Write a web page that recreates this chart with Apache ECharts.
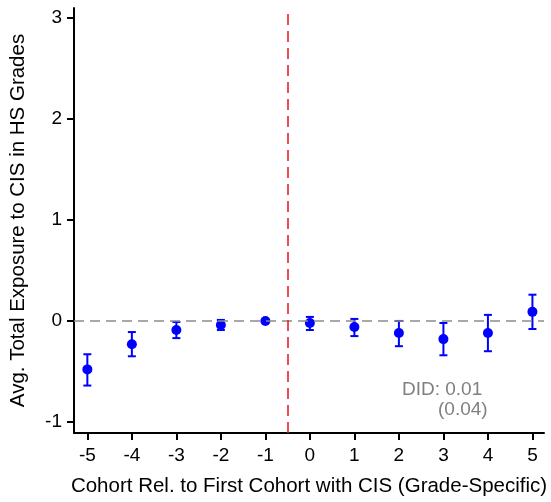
<!DOCTYPE html>
<html>
<head>
<meta charset="utf-8">
<script src="https://cdn.jsdelivr.net/npm/echarts@6/dist/echarts.min.js"></script>
<style>
  html, body { margin: 0; padding: 0; background: #fff; }
  #chart { width: 551px; height: 502px; }
</style>
</head>
<body>
<div id="chart"></div>
<script>
// Event-study estimates by cohort relative to the first cohort with CIS
const cohorts   = [-5, -4, -3, -2, -1, 0, 1, 2, 3, 4, 5];
const estimates = [-0.48, -0.23, -0.09, -0.04, 0, -0.02, -0.06, -0.12, -0.18, -0.12, 0.09];
const ciLow     = [-0.64, -0.35, -0.17, -0.09, null, -0.09, -0.15, -0.25, -0.34, -0.30, -0.08];
const ciHigh    = [-0.33, -0.11, -0.01, 0.01, null, 0.04, 0.02, 0.00, -0.02, 0.06, 0.26];
const xTicks    = [-5, -4, -3, -2, -1, 0, 1, 2, 3, 4, 5];
const yTicks    = [-1, 0, 1, 2, 3];
const eventLine = -0.5;
const didLines  = ['DID: 0.01', '(0.04)'];

const FONT = "'Liberation Sans', Arial, Helvetica, sans-serif";
const BLUE = '#0000ff';

const pointData = cohorts.map((c, i) => [c, estimates[i]]);
const barData = cohorts
  .map((c, i) => [c, ciLow[i], ciHigh[i]])
  .filter(d => d[1] !== null && d[2] !== null);

const chart = echarts.init(document.getElementById('chart'), null, { renderer: 'canvas' });

chart.setOption({
  animation: false,
  backgroundColor: '#fff',
  grid: { left: 74, right: 7, top: 8, bottom: 67, containLabel: false },
  xAxis: {
    type: 'value',
    min: -5.3,
    max: 5.26,
    name: 'Cohort Rel. to First Cohort with CIS (Grade-Specific)',
    nameLocation: 'middle',
    nameGap: 43,
    nameTextStyle: { fontFamily: FONT, fontSize: 20.5, color: '#000' },
    axisLine: { show: true, onZero: false, lineStyle: { color: '#000', width: 2 } },
    axisTick: { show: true, length: 7, customValues: xTicks, lineStyle: { color: '#000', width: 2 } },
    axisLabel: { customValues: xTicks, margin: 13, fontFamily: FONT, fontSize: 19, color: '#000' },
    splitLine: { show: false }
  },
  yAxis: {
    type: 'value',
    min: -1.11,
    max: 3.1,
    name: 'Avg. Total Exposure to CIS in HS Grades',
    nameLocation: 'middle',
    nameGap: 45,
    nameTextStyle: { fontFamily: FONT, fontSize: 20.5, color: '#000' },
    axisLine: { show: true, onZero: false, lineStyle: { color: '#000', width: 2 } },
    axisTick: { show: true, length: 7, customValues: yTicks, lineStyle: { color: '#000', width: 2 } },
    axisLabel: { customValues: yTicks, margin: 12, fontFamily: FONT, fontSize: 19, color: '#000' },
    splitLine: { show: false }
  },
  series: [
    {
      // confidence intervals with end caps
      type: 'custom',
      data: barData,
      z: 3,
      renderItem: function (params, api) {
        const x = api.value(0);
        const top = api.coord([x, api.value(2)]);
        const bot = api.coord([x, api.value(1)]);
        const half = 4;
        const style = { stroke: BLUE, lineWidth: 2 };
        return {
          type: 'group',
          children: [
            { type: 'line', shape: { x1: top[0], y1: top[1], x2: bot[0], y2: bot[1] }, style },
            { type: 'line', shape: { x1: top[0] - half, y1: top[1], x2: top[0] + half, y2: top[1] }, style },
            { type: 'line', shape: { x1: bot[0] - half, y1: bot[1], x2: bot[0] + half, y2: bot[1] }, style }
          ]
        };
      }
    },
    {
      type: 'scatter',
      data: pointData,
      symbol: 'circle',
      symbolSize: 10,
      z: 4,
      itemStyle: { color: BLUE, opacity: 1 },
      markLine: {
        silent: true,
        symbol: 'none',
        label: { show: false },
        data: [
          { yAxis: 0, lineStyle: { color: '#8c8c8c', width: 1.5, type: [10, 6], opacity: 1 } },
          { xAxis: eventLine, lineStyle: { color: '#f01e1e', width: 1.6, type: [11, 6], opacity: 1 } }
        ]
      }
    }
  ],
  graphic: [
    {
      type: 'text',
      left: 402, top: 380,
      style: { text: didLines[0], fontFamily: FONT, fontSize: 19, fill: '#808080' }
    },
    {
      type: 'text',
      left: 438, top: 400,
      style: { text: didLines[1], fontFamily: FONT, fontSize: 19, fill: '#808080' }
    }
  ]
});
</script>
</body>
</html>
